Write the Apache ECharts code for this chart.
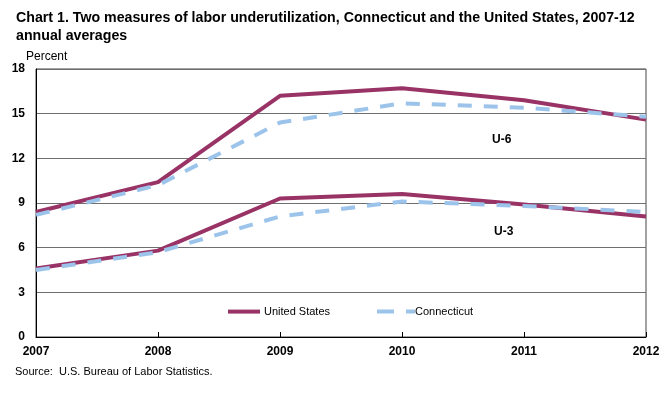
<!DOCTYPE html>
<html>
<head>
<meta charset="utf-8">
<script src="https://cdn.jsdelivr.net/npm/echarts@6/dist/echarts.min.js"></script>
<style>
html,body{margin:0;padding:0;background:#fff;}
#chart{width:670px;height:395px;}
</style>
</head>
<body>
<div id="chart"></div>
<script>
var years = ['2007', '2008', '2009', '2010', '2011', '2012'];
var usU6 = [8.4, 10.4, 16.2, 16.7, 15.9, 14.6];
var ctU6 = [8.2, 10.2, 14.4, 15.7, 15.4, 14.8];
var usU3 = [4.6, 5.8, 9.3, 9.6, 8.9, 8.1];
var ctU3 = [4.5, 5.7, 8.1, 9.1, 8.8, 8.4];
var yTicks = [0, 3, 6, 9, 12, 15, 18];

var FONT = '"Liberation Sans", Arial, sans-serif';
var US_COLOR = '#993366';
var CT_COLOR = '#9cc4ea';

var chart = echarts.init(document.getElementById('chart'), null, {renderer: 'canvas'});
var usLine = {color: US_COLOR, width: 4};
var ctLine = {color: CT_COLOR, width: 4, type: [14, 12]};

chart.setOption({
  animation: false,
  backgroundColor: '#ffffff',
  textStyle: {fontFamily: FONT},
  title: [{
    text: 'Chart 1. Two measures of labor underutilization, Connecticut and the United States, 2007-12\nannual averages',
    left: 11, top: 4,
    textStyle: {fontFamily: FONT, fontSize: 14.2, fontWeight: 'bold', color: '#000', lineHeight: 18}
  }],
  grid: {left: 36, right: 24, top: 69, bottom: 58, show: true, borderColor: '#444', borderWidth: 1, backgroundColor: 'transparent'},
  legend: [{
    data: ['United States'],
    left: 221, top: 301,
    itemWidth: 32, itemHeight: 14, itemGap: 10,
    itemStyle: {color: 'transparent', borderWidth: 0, opacity: 0},
    lineStyle: {width: 4},
    textStyle: {fontFamily: FONT, fontSize: 11, color: '#000', padding: [0, 0, 0, -1]}
  }, {
    data: ['Connecticut'],
    left: 370, top: 301,
    itemWidth: 38, itemHeight: 14, itemGap: 10,
    itemStyle: {color: 'transparent', borderWidth: 0, opacity: 0},
    lineStyle: {width: 4, type: [17, 12]},
    textStyle: {fontFamily: FONT, fontSize: 11, color: '#000', padding: [0, 0, 0, -5]}
  }],
  xAxis: {
    type: 'category',
    data: years,
    boundaryGap: false,
    axisLine: {lineStyle: {color: '#000', width: 1}},
    axisTick: {inside: true, length: 5, lineStyle: {color: '#000'}},
    axisLabel: {fontFamily: FONT, fontSize: 12, fontWeight: 'bold', color: '#000', margin: 9}
  },
  yAxis: {
    type: 'value',
    min: yTicks[0], max: yTicks[yTicks.length - 1], interval: 3,
    name: 'Percent',
    nameLocation: 'end',
    nameGap: 6,
    nameTextStyle: {fontFamily: FONT, fontSize: 12, color: '#000', align: 'left', padding: [0, 0, 0, -10]},
    axisLine: {show: true, lineStyle: {color: '#000', width: 1}},
    axisTick: {show: false},
    axisLabel: {fontFamily: FONT, fontSize: 12, fontWeight: 'bold', color: '#000', margin: 11},
    splitLine: {lineStyle: {color: '#6f6f6f', width: 1}}
  },
  graphic: [
    {type: 'text', left: 492, top: 134, style: {text: 'U-6', font: 'bold 12px ' + FONT, fill: '#000'}},
    {type: 'text', left: 494, top: 226, style: {text: 'U-3', font: 'bold 12px ' + FONT, fill: '#000'}},
    {type: 'text', left: 15, top: 366, style: {text: 'Source:  U.S. Bureau of Labor Statistics.', font: '11px ' + FONT, fill: '#000'}}
  ],
  series: [
    {name: 'United States', type: 'line', data: usU6, symbol: 'none', lineStyle: usLine, itemStyle: {color: US_COLOR}, z: 2},
    {name: 'United States', type: 'line', data: usU3, symbol: 'none', lineStyle: usLine, itemStyle: {color: US_COLOR}, z: 2},
    {name: 'Connecticut', type: 'line', data: ctU6, symbol: 'none', lineStyle: ctLine, itemStyle: {color: CT_COLOR}, z: 3},
    {name: 'Connecticut', type: 'line', data: ctU3, symbol: 'none', lineStyle: ctLine, itemStyle: {color: CT_COLOR}, z: 3}
  ]
});
</script>
</body>
</html>
